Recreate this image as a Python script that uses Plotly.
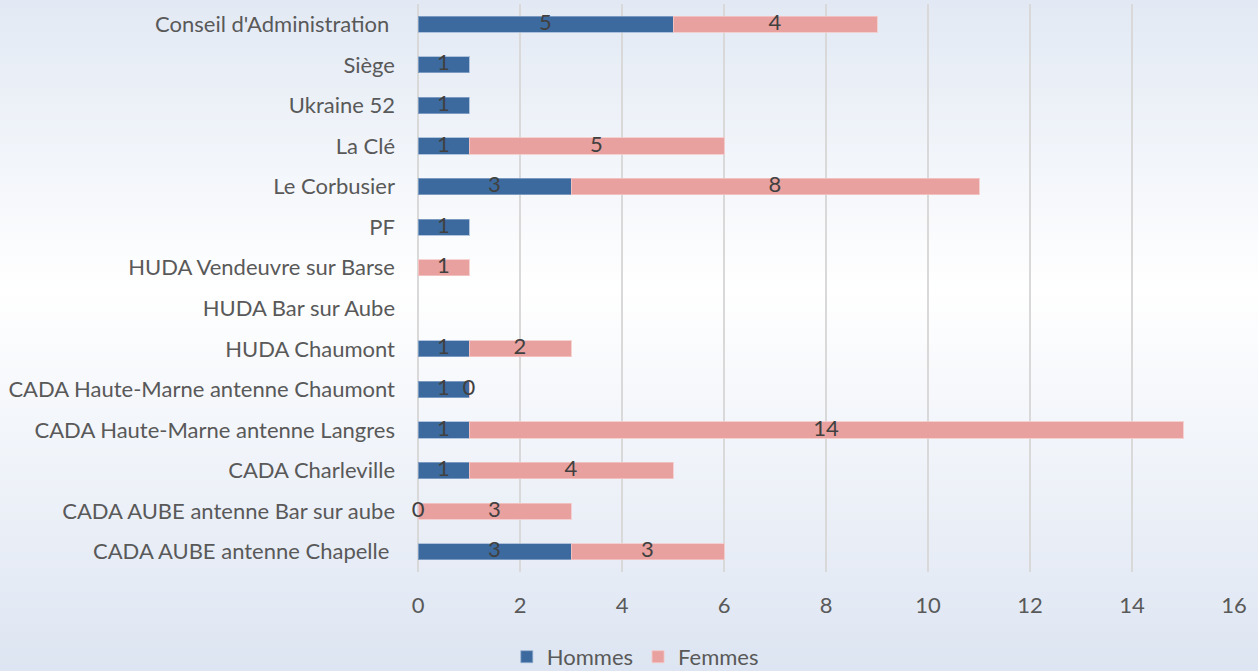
import plotly.graph_objects as go

# ---- data (top to bottom as in the chart) ----
categories = [
    "Conseil d'Administration ",
    "Siège",
    "Ukraine 52",
    "La Clé",
    "Le Corbusier",
    "PF",
    "HUDA Vendeuvre sur Barse",
    "HUDA Bar sur Aube",
    "HUDA Chaumont",
    "CADA Haute-Marne antenne Chaumont",
    "CADA Haute-Marne antenne Langres",
    "CADA Charleville",
    "CADA AUBE antenne Bar sur aube",
    "CADA AUBE antenne Chapelle ",
]
hommes = [5, 1, 1, 1, 3, 1, None, None, 1, 1, 1, 1, 0, 3]
femmes = [4, None, None, 5, 8, None, 1, None, 2, 0, 14, 4, 3, 3]
x_ticks = [0, 2, 4, 6, 8, 10, 12, 14, 16]

BLUE = "#3d6a9e"
PINK = "#e8a19f"
FONT = "Lato"
FS = 22

fig = go.Figure()

fig.add_trace(go.Bar(
    y=categories, x=hommes, name="Hommes", orientation="h",
    marker=dict(color=BLUE, line=dict(color="rgba(150,175,210,0.7)", width=1)),
))
fig.add_trace(go.Bar(
    y=categories, x=femmes, name="Femmes", orientation="h",
    marker=dict(color=PINK, line=dict(color="rgba(245,200,200,0.8)", width=1)),
))

# data labels, centred in each segment (zero values shown too)
h_pos = [h / 2 if h is not None else None for h in hommes]
f_pos = [((h or 0) + f / 2) if f is not None else None for h, f in zip(hommes, femmes)]
for pos, vals in ((h_pos, hommes), (f_pos, femmes)):
    fig.add_trace(go.Scatter(
        x=pos, y=categories, mode="text",
        text=[str(v) if v is not None else "" for v in vals],
        textposition="middle center",
        textfont=dict(family=FONT, size=FS, color="#404040"),
        showlegend=False, hoverinfo="skip", cliponaxis=False,
    ))

# soft vertical background gradient (paper coords; plot area spans px 4..572)
def paper_y(px):
    return (572 - px) / 568.0

def grad_color(px):
    top, mid, bot = (226, 233, 244), (255, 255, 255), (221, 229, 242)
    if px <= 290:
        t = px / 290.0
        a, b = top, mid
    else:
        t = (px - 290) / (671 - 290.0)
        a, b = mid, bot
    c = [round(a[i] + (b[i] - a[i]) * t) for i in range(3)]
    return "rgb(%d,%d,%d)" % tuple(c)

shapes = []
step = 8
for px in range(0, 671, step):
    shapes.append(dict(
        type="rect", xref="paper", yref="paper", layer="below",
        x0=-1, x1=2, y0=paper_y(px + step + 1), y1=paper_y(px),
        fillcolor=grad_color(px + step / 2), line=dict(width=0),
    ))

fig.update_layout(
    barmode="stack",
    bargap=0.6,
    width=1258, height=671,
    margin=dict(l=418, r=24, t=4, b=99),
    paper_bgcolor="#eef3f9",
    plot_bgcolor="rgba(0,0,0,0)",
    font=dict(family=FONT, size=FS, color="#595959"),
    shapes=shapes,
    showlegend=True,
    legend=dict(
        orientation="h", xref="container", yref="container",
        x=0.505, xanchor="center", y=0.021, yanchor="middle",
        font=dict(family=FONT, size=FS, color="#595959"),
        bgcolor="rgba(0,0,0,0)", itemwidth=30, traceorder="normal",
    ),
    xaxis=dict(
        range=[0, 16], tickvals=x_ticks, showgrid=True,
        gridcolor="#d9d9d9", gridwidth=2, zeroline=True,
        zerolinecolor="#d9d9d9", zerolinewidth=2,
        showline=False, ticks="", ticklabelstandoff=18,
        tickfont=dict(family=FONT, size=FS, color="#595959"),
        fixedrange=True,
    ),
    yaxis=dict(
        range=[len(categories) - 0.5, -0.5], showgrid=False, showline=False,
        ticks="", ticklabelstandoff=22, automargin=False,
        tickfont=dict(family=FONT, size=FS, color="#595959"),
        fixedrange=True,
    ),
)

fig.write_html(
    "out.html",
    config={"displayModeBar": False},
    post_script="document.body.style.margin='0';document.body.style.overflow='hidden';",
)
